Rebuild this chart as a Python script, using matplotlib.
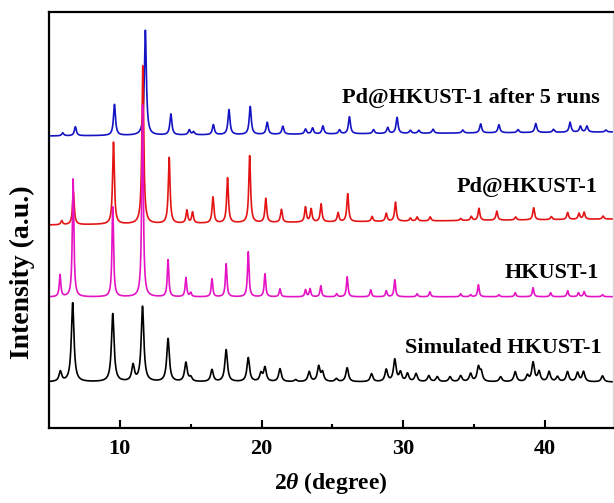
import numpy as np
import matplotlib
matplotlib.use('Agg')
import matplotlib.pyplot as plt

# ---------------- data (peak positions in 2theta, peak heights in a.u.) ----------------
sim_pos = [5.80, 6.67, 9.50, 10.93, 11.60, 13.40, 14.66, 15.00, 16.50, 17.50, 19.06, 19.96,
           20.24, 21.30, 22.40, 23.36, 24.03, 24.30, 25.28, 26.04, 27.76, 28.80, 29.40, 29.80,
           30.30, 30.90, 31.80, 32.40, 33.30, 34.05, 34.75, 35.30, 35.50, 36.87, 37.90, 38.76,
           39.16, 39.58, 40.29, 40.88, 41.59, 42.30, 42.72, 44.06]
sim_int = [10, 79, 68, 16, 75, 43, 19, 4, 12, 32, 24, 8,
           14, 13, 2, 10, 15, 9, 3, 14, 8, 12, 22, 9,
           8, 8, 6, 5, 5, 6, 8, 14, 9, 5, 10, 6,
           19, 10, 10, 5, 10, 9, 10, 6]

hk_pos = [5.78, 6.70, 9.50, 11.60, 13.40, 14.66, 15.00, 16.50, 17.50, 19.06, 20.24, 21.30,
          23.10, 23.42, 24.18, 25.30, 26.04, 27.70, 28.80, 29.40, 30.98, 31.88, 34.05, 34.75,
          35.30, 36.75, 37.90, 39.16, 40.40, 41.60, 42.36, 42.76, 44.06]
hk_int = [22, 118, 90, 192, 37, 19, 4, 18, 33, 45, 23, 8,
          7, 8, 11, 3, 20, 7, 6, 17, 3, 5, 3, 2,
          12, 2, 4, 9, 4, 6, 4, 5, 2]

pd_pos = [5.90, 6.72, 9.55, 11.62, 13.48, 14.73, 15.13, 16.57, 17.60, 19.16, 20.30, 21.40,
          23.10, 23.50, 24.20, 25.40, 26.08, 27.80, 28.80, 29.45, 30.50, 30.98, 31.90, 34.05,
          34.80, 35.34, 36.60, 37.93, 39.20, 40.45, 41.60, 42.40, 42.76, 44.10]
pd_int = [4, 33, 82, 158, 66, 13, 11, 26, 45, 67, 24, 13,
          15, 13, 18, 9, 28, 5, 8, 19, 3, 4, 4, 2,
          4, 12, 9, 3, 12, 3, 7, 6, 7, 3]

run5_pos = [5.97, 6.86, 9.62, 11.80, 13.60, 14.90, 15.20, 16.60, 17.70, 19.20, 20.40, 21.50,
            23.10, 23.60, 24.33, 25.50, 26.20, 27.90, 28.90, 29.56, 30.50, 31.10, 32.10, 34.20,
            35.46, 36.75, 38.10, 39.35, 40.60, 41.77, 42.50, 42.96, 44.30]
run5_int = [3, 9, 31, 105, 21, 5, 3, 10, 25, 28, 12, 8,
            5, 6, 8, 4, 17, 4, 6, 16, 3, 3, 4, 3,
            9, 8, 3, 9, 3, 10, 6, 6, 2]

# background level at start / end of the scan (a.u.)
sim_bg = [0, 0]
hk_bg = [0, 0.3]
pd_bg = [0, 6]
run5_bg = [0, 4]

labels = ['Simulated HKUST-1', 'HKUST-1', 'Pd@HKUST-1', 'Pd@HKUST-1 after 5 runs']

# ---------------- style ----------------
plt.rcParams['font.family'] = ['Liberation Serif', 'DejaVu Serif']
plt.rcParams['font.weight'] = 'bold'
plt.rcParams['mathtext.fontset'] = 'custom'
plt.rcParams['mathtext.it'] = 'Liberation Serif:italic:bold'
plt.rcParams['mathtext.rm'] = 'Liberation Serif:bold'
plt.rcParams['mathtext.bf'] = 'Liberation Serif:bold'

W, H = 614, 503
fig = plt.figure(figsize=(W / 100, H / 100), dpi=100)
ax = fig.add_axes([49 / W, 1 - 428 / H, (613 - 49) / W, 416 / H])

x = np.linspace(5, 44.8, 6000)


def profile(pos, amp, hw, bg, offset):
    y = offset + np.interp(x, [5, 44.8], bg)
    for p, a in zip(pos, amp):
        y = y + a / (1 + ((x - p) / hw) ** 2)
    return y


series = [
    (run5_pos, run5_int, 0.085, run5_bg, 292, '#1414c4', 1.2),
    (pd_pos, pd_int, 0.075, pd_bg, 203, '#e41414', 1.2),
    (hk_pos, hk_int, 0.065, hk_bg, 131, '#e414c4', 1.2),
    (sim_pos, sim_int, 0.11, sim_bg, 46, '#000000', 1.2),
]
for pos, amp, hw, bg, off, col, lw in series:
    ax.plot(x, profile(pos, amp, hw, bg, off), color=col, lw=lw)

# series labels
fs_lab = 16
ax.text(44.0, 428 - 353, labels[0], ha='right', va='baseline', fontsize=fs_lab, fontweight='bold')
ax.text(43.8, 428 - 278, labels[1], ha='right', va='baseline', fontsize=fs_lab, fontweight='bold')
ax.text(43.72, 428 - 192, labels[2], ha='right', va='baseline', fontsize=fs_lab, fontweight='bold')
ax.text(43.87, 428 - 103, labels[3], ha='right', va='baseline', fontsize=fs_lab, fontweight='bold')

ax.set_xlim(5, 44.8)
ax.set_ylim(0, 416)
ax.set_xticks([10, 20, 30, 40])
ax.set_xticks([15, 25, 35], minor=True)
ax.set_yticks([])
ax.tick_params(axis='x', which='major', direction='in', length=6, width=1.5, pad=8,
               labelsize=16, top=False)
ax.tick_params(axis='x', which='minor', direction='in', length=3, width=1.5, top=False)
for lab in ax.get_xticklabels():
    lab.set_fontweight('bold')

for s in ['left', 'bottom', 'top']:
    ax.spines[s].set_linewidth(1.6)
ax.spines['right'].set_linewidth(1.0)
ax.spines['right'].set_color('#d8d8d8')

ax.set_xlabel(r'2$\mathit{\theta}$ (degree)', fontsize=17, fontweight='bold', labelpad=8)
ax.set_ylabel('Intensity (a.u.)', fontsize=20, fontweight='bold')
ax.yaxis.set_label_coords(-0.024, 0.375)

fig.savefig('out.png', dpi=100)
